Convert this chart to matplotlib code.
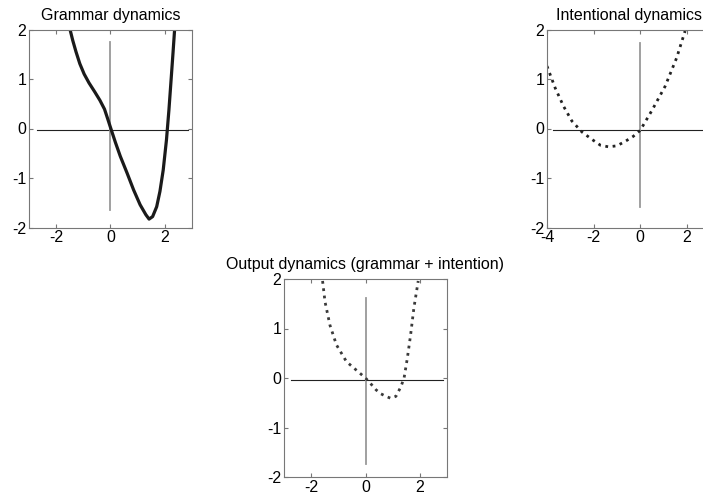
import matplotlib.pyplot as plt

plt.rcParams['font.family'] = ['Liberation Sans', 'DejaVu Sans']
plt.rcParams['axes.unicode_minus'] = False

# grammar dynamics (solid curve)
grammar_x = [-1.49, -1.39, -1.27, -1.13, -0.97, -0.79, -0.58, -0.39, -0.22, -0.10,
             0.0, 0.18, 0.36, 0.61, 0.85, 1.09, 1.30, 1.42, 1.55, 1.70,
             1.82, 1.94, 2.06, 2.15, 2.23, 2.30, 2.36]
grammar_y = [2.0, 1.78, 1.55, 1.31, 1.10, 0.92, 0.74, 0.57, 0.39, 0.19,
             0.02, -0.28, -0.56, -0.90, -1.24, -1.54, -1.74, -1.83, -1.78, -1.58,
             -1.27, -0.84, -0.23, 0.37, 0.98, 1.52, 2.0]

# intentional dynamics (dotted curve)
intent_x = [-4.0, -3.65, -3.29, -2.93, -2.50, -2.07, -1.70, -1.36, -1.00, -0.64,
            -0.30, 0.0, 0.50, 1.07, 1.57, 1.93]
intent_y = [1.26, 0.82, 0.45, 0.15, -0.07, -0.22, -0.34, -0.37, -0.35, -0.26,
            -0.16, -0.04, 0.36, 0.85, 1.43, 1.97]

# output dynamics (grammar + intention)
output_x = [-1.58, -1.49, -1.31, -1.07, -0.70, -0.34, 0.0, 0.20, 0.39, 0.57, 0.75,
            0.93, 1.12, 1.30, 1.42, 1.54, 1.66, 1.78, 1.94]
output_y = [1.96, 1.54, 1.07, 0.67, 0.33, 0.16, 0.0, -0.12, -0.24, -0.32, -0.37,
            -0.41, -0.37, -0.18, 0.0, 0.40, 0.87, 1.41, 1.96]

# reference axes lines drawn inside each panel: (hline x0, x1, vline y0, y1)
grammar_ref = [-2.7, 2.87, -1.65, 1.74]
intent_ref = [-3.73, 3.0, -1.58, 1.72]
output_ref = [-2.74, 2.87, -1.74, 1.62]
ref_level = -0.04

titles = ['Grammar dynamics', 'Intentional dynamics',
          'Output dynamics (grammar + intention)']
xlims = [(-3, 3), (-4, 3), (-3, 3)]
xticks = [[-2, 0, 2], [-4, -2, 0, 2], [-2, 0, 2]]
yticks = [-2, -1, 0, 1, 2]

fig = plt.figure(figsize=(7.03, 4.99), dpi=100)
w, h = 163 / 703, 198 / 499
positions = [
    [29 / 703, (499 - 227.5) / 499, w, h],
    [547 / 703, (499 - 227.5) / 499, w, h],
    [284 / 703, (499 - 477) / 499, w, h],
]

curves = [
    (grammar_x, grammar_y, '-', 2.3, '#1a1a1a'),
    (intent_x, intent_y, ':', 2.0, '#222222'),
    (output_x, output_y, ':', 2.0, '#3a3a3a'),
]
refs = [grammar_ref, intent_ref, output_ref]

for i in range(3):
    ax = fig.add_axes(positions[i])
    ref = refs[i]
    ax.plot([ref[0], ref[1]], [ref_level, ref_level], color='#222222', lw=0.8)
    ax.plot([0, 0], [ref[2], ref[3]], color='#999999', lw=1.3)
    cx, cy, ls, lw, col = curves[i]
    ax.plot(cx, cy, linestyle=ls, lw=lw, color=col, solid_joinstyle='round')
    ax.set_xlim(*xlims[i])
    ax.set_ylim(-2, 2)
    ax.set_xticks(xticks[i])
    ax.set_yticks(yticks)
    ax.tick_params(direction='in', length=3, top=True, right=True,
                   color='#777777', labelsize=11.5, pad=2)
    for s in ax.spines.values():
        s.set_color('#777777')
        s.set_linewidth(0.8)
    ax.set_title(titles[i], fontsize=11.5, pad=7)

fig.savefig('out.png', dpi=100)
